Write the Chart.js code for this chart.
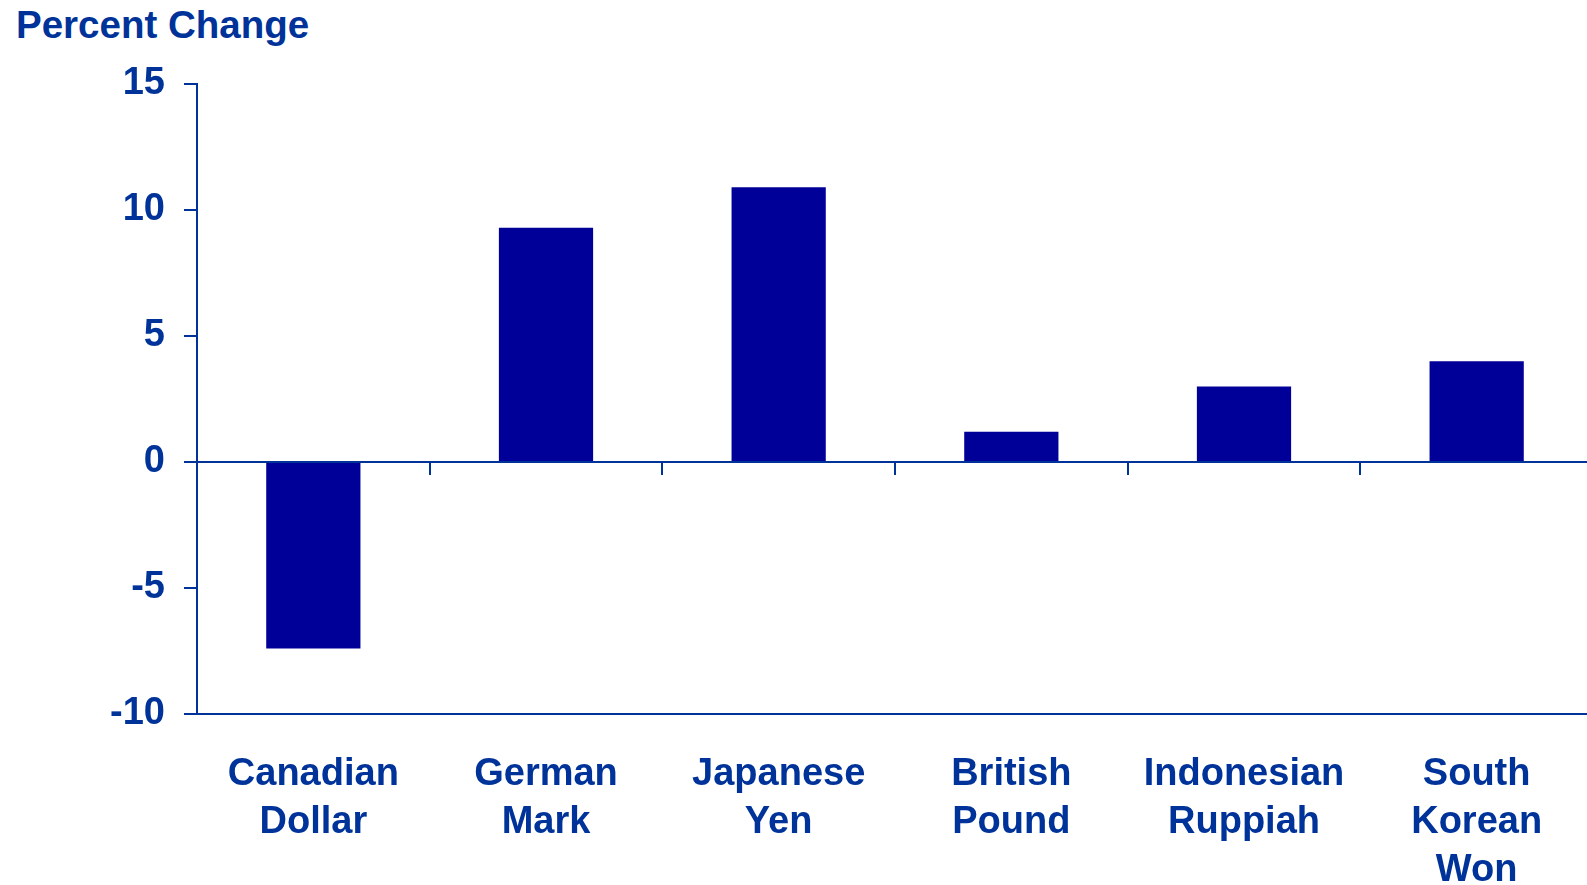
<!DOCTYPE html>
<html>
<head>
<meta charset="utf-8">
<script src="https://cdn.jsdelivr.net/npm/chart.js@4.4.0/dist/chart.umd.min.js"></script>
<style>
  html, body { margin:0; padding:0; background:#fff; overflow:hidden; }
  #wrap { position:relative; width:1587px; height:885px; overflow:hidden; }
  #title { position:absolute; left:16px; top:6px; font-family:"Liberation Sans", Arial, sans-serif;
           font-weight:bold; font-size:38.5px; line-height:38px; color:#003399; white-space:nowrap; }
  canvas { position:absolute; left:0; top:0; }
</style>
</head>
<body>
<div id="wrap">
  <div id="title">Percent Change</div>
  <!-- canvas a bit wider than the window: the plot runs off the right edge like the original -->
  <canvas id="chart" width="1593" height="885"></canvas>
</div>
<script>
// currencies and their percent change
var currencies = [["Canadian","Dollar"],["German","Mark"],["Japanese","Yen"],["British","Pound"],["Indonesian","Ruppiah"],["South","Korean","Won"]];
var pctChange = [-7.4, 9.3, 10.9, 1.2, 3.0, 4.0];
var yMin = -10, yMax = 15, yStep = 5;

var blue = "#003399";
var barColor = "#000099";
var fontFam = "'Liberation Sans', Arial, sans-serif";

var ctx = document.getElementById("chart").getContext("2d");
var chart = new Chart(ctx, {
    type: "bar",
    data: {
        labels: currencies,
        datasets: [{
            label: "Percent Change",
            data: pctChange,
            backgroundColor: barColor,
            borderWidth: 0,
            categoryPercentage: 1,
            barPercentage: 0.405
        }]
    },
    options: {
        responsive: false,
        animation: false,
        layout: { padding: { top: 84, left: 0, right: 0, bottom: 0 } },
        plugins: {
            legend: { display: false },
            tooltip: { enabled: false },
            title: { display: false }
        },
        scales: {
            x: {
                position: "bottom",
                grid: { display: false, drawTicks: false },
                border: { display: true, color: blue, width: 2 },
                ticks: {
                    color: blue,
                    padding: 37,
                    maxRotation: 0,
                    autoSkip: false,
                    font: { family: fontFam, size: 38, weight: "bold", lineHeight: 1.263 }
                },
                afterFit: function(s) { s.height = 171; }
            },
            x2: {
                type: "category",
                labels: currencies,
                position: { y: 0 },
                grid: { offset: true, drawOnChartArea: false, drawTicks: true, tickLength: 12, color: blue, lineWidth: 2 },
                border: { display: true, color: blue, width: 2 },
                ticks: { display: false }
            },
            y: {
                min: yMin,
                max: yMax,
                grid: { drawOnChartArea: false, tickLength: 13, color: blue, lineWidth: 2 },
                border: { display: true, color: blue, width: 2 },
                ticks: {
                    stepSize: yStep,
                    color: blue,
                    padding: 19,
                    font: { family: fontFam, size: 38, weight: "bold" }
                },
                afterFit: function(s) { s.width = 197; }
            }
        }
    }
});
</script>
</body>
</html>
